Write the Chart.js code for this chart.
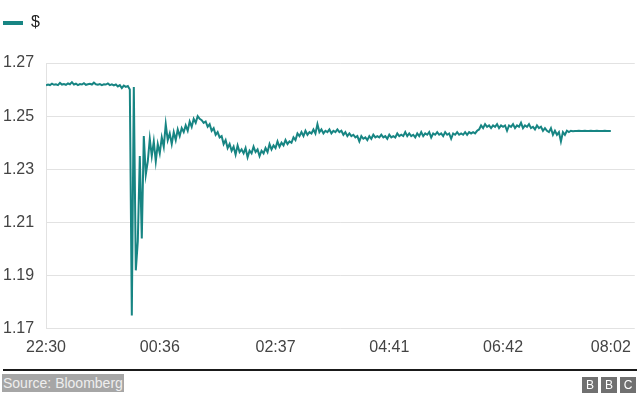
<!DOCTYPE html>
<html>
<head>
<meta charset="utf-8">
<script src="https://cdn.jsdelivr.net/npm/chart.js@4.4.1/dist/chart.umd.min.js"></script>
<style>
    body { margin: 0; background: #fff; font-family: "Liberation Sans", Arial, sans-serif; }
    #wrap { position: relative; width: 640px; height: 398px; overflow: hidden; }
    #chart { position: absolute; left: 0; top: 0; }
    #rule { position: absolute; left: 3px; top: 369px; width: 634px; height: 2px; background: #1a1a1a; }
    #source { position: absolute; left: 2px; top: 374px; height: 18px; line-height: 18px; padding: 0 1px; font-size: 14px; color: #eeeeee; background: #a6a6a6; }
    .bbc { position: absolute; top: 377px; width: 16px; height: 16px; background: #707070; color: #fff; font-size: 12px; line-height: 16px; text-align: center; }
</style>
</head>
<body>
<div id="wrap">
    <canvas id="chart" width="640" height="398"></canvas>
    <div id="rule"></div>
    <div id="source">Source: Bloomberg</div>
    <div class="bbc" style="left:582px">B</div>
    <div class="bbc" style="left:601px">B</div>
    <div class="bbc" style="left:620px">C</div>
</div>
<script>
// ======================================
// Data
// ======================================

const seriesName = "$";

const tickLabels = ["22:30", "00:36", "02:37", "04:41", "06:42", "08:02"];
const tickIndex = [0, 57, 115, 172, 229, 283];

const yTicks = [1.17, 1.19, 1.21, 1.23, 1.25, 1.27];

// pound in dollars
const dollarRate = [
    1.2616, 1.2619, 1.2617, 1.2622, 1.2618, 1.2620, 1.2617, 1.2625, 1.2619, 1.2621,
    1.2618, 1.2623, 1.2620, 1.2628, 1.2619, 1.2622, 1.2617, 1.2621, 1.2619, 1.2624,
    1.2618, 1.2620, 1.2622, 1.2619, 1.2626, 1.2620, 1.2618, 1.2621, 1.2617, 1.2620,
    1.2619, 1.2623, 1.2617, 1.2620, 1.2616, 1.2619, 1.2612, 1.2617, 1.2606, 1.2615,
    1.2610, 1.2613,
    // flash crash
    1.2600, 1.1750, 1.2610, 1.1920, 1.2030, 1.2350, 1.2040, 1.2425, 1.2280, 1.2330,
    1.2415, 1.2350, 1.2405, 1.2330, 1.2395, 1.2360, 1.2420, 1.2385, 1.2470, 1.2410,
    1.2435, 1.2395, 1.2440, 1.2410, 1.2450, 1.2425, 1.2455, 1.2440, 1.2465, 1.2445,
    1.2480, 1.2460, 1.2490, 1.2475, 1.2500, 1.2490, 1.2485, 1.2475, 1.2480, 1.2460,
    1.2470, 1.2445, 1.2455, 1.2430, 1.2440, 1.2420, 1.2425, 1.2395, 1.2410, 1.2380,
    1.2395, 1.2370, 1.2385, 1.2355, 1.2390, 1.2365, 1.2375, 1.2360, 1.2380, 1.2345,
    1.2370, 1.2360, 1.2385, 1.2365, 1.2375, 1.2350, 1.2370, 1.2360, 1.2380, 1.2365,
    1.2395, 1.2375, 1.2390, 1.2380, 1.2405, 1.2385, 1.2400, 1.2390, 1.2410, 1.2395,
    1.2405, 1.2400, 1.2420, 1.2410, 1.2435, 1.2425, 1.2440, 1.2425, 1.2445, 1.2430,
    1.2440, 1.2435, 1.2450, 1.2435, 1.2470, 1.2440, 1.2450, 1.2435, 1.2445, 1.2440,
    1.2450, 1.2435, 1.2445, 1.2440, 1.2450, 1.2440, 1.2445, 1.2430, 1.2440, 1.2425,
    1.2435, 1.2425, 1.2430, 1.2420, 1.2425, 1.2405, 1.2425, 1.2415, 1.2420, 1.2410,
    1.2425, 1.2415, 1.2430, 1.2420, 1.2425, 1.2420, 1.2430, 1.2420, 1.2425, 1.2415,
    1.2430, 1.2420, 1.2425, 1.2420, 1.2435, 1.2425, 1.2430, 1.2425, 1.2440, 1.2425,
    1.2435, 1.2425, 1.2430, 1.2420, 1.2435, 1.2425, 1.2440, 1.2425, 1.2435, 1.2430,
    1.2440, 1.2420, 1.2435, 1.2430, 1.2440, 1.2430, 1.2435, 1.2425, 1.2440, 1.2430,
    1.2435, 1.2415, 1.2435, 1.2430, 1.2440, 1.2430, 1.2435, 1.2430, 1.2440, 1.2430,
    1.2440, 1.2435, 1.2440, 1.2435, 1.2445, 1.2450, 1.2465, 1.2455, 1.2470, 1.2460,
    1.2465, 1.2455, 1.2465, 1.2460, 1.2470, 1.2455, 1.2465, 1.2460, 1.2465, 1.2445,
    1.2465, 1.2460, 1.2470, 1.2455, 1.2465, 1.2460, 1.2475, 1.2455, 1.2465, 1.2460,
    1.2470, 1.2455, 1.2460, 1.2450, 1.2465, 1.2455, 1.2460, 1.2445, 1.2455, 1.2445,
    1.2440, 1.2455, 1.2430, 1.2445, 1.2430, 1.2440, 1.2405, 1.2440, 1.2430, 1.2445,
    1.2440, 1.2445,
    // quiet close
    1.2443, 1.2444, 1.2444, 1.2445, 1.2444, 1.2444, 1.2445, 1.2444, 1.2444, 1.2445,
    1.2444, 1.2444, 1.2445, 1.2444, 1.2444, 1.2444, 1.2445, 1.2444, 1.2444, 1.2444
];

// ======================================
// Theme
// ======================================

const teal = "#178583";
const textColor = "#444444";
const gridColor = "#e2e2e2";

// ======================================
// Legend gap (space between legend and plot)
// ======================================

const legendGap = {
    id: "legendGap",
    beforeInit(chart) {
        const fit = chart.legend.fit;
        chart.legend.fit = function () {
            fit.bind(chart.legend)();
            this.height += 22;
        };
    }
};

// ======================================
// Chart
// ======================================

const points = dollarRate.map((v, i) => ({ x: i, y: v }));

new Chart(document.getElementById("chart"), {

    type: "line",

    data: {
        datasets: [{
            label: seriesName,
            data: points,
            borderColor: teal,
            backgroundColor: teal,
            borderWidth: 2,
            pointRadius: 0,
            tension: 0
        }]
    },

    plugins: [legendGap],

    options: {
        responsive: false,
        animation: false,
        layout: {
            padding: { left: 3, right: 4, top: 15, bottom: 32 }
        },
        plugins: {
            tooltip: { enabled: false },
            legend: {
                position: "top",
                align: "start",
                labels: {
                    boxWidth: 20,
                    boxHeight: 4,
                    padding: 0,
                    color: "#222",
                    font: { size: 16, family: "Liberation Sans" },
                    generateLabels: () => [{
                        text: seriesName,
                        fillStyle: teal,
                        strokeStyle: teal,
                        lineWidth: 0,
                        fontColor: "#222"
                    }]
                }
            }
        },
        scales: {
            x: {
                type: "linear",
                min: 0,
                max: 295,
                afterBuildTicks: (scale) => {
                    scale.ticks = tickIndex.map(v => ({ value: v }));
                },
                grid: { display: false, drawTicks: false },
                border: { display: false },
                ticks: {
                    autoSkip: false,
                    maxRotation: 0,
                    padding: 9,
                    color: textColor,
                    font: { size: 16, family: "Liberation Sans" },
                    callback: (v) => tickLabels[tickIndex.indexOf(v)]
                }
            },
            y: {
                min: yTicks[0],
                max: yTicks[yTicks.length - 1],
                afterBuildTicks: (scale) => {
                    scale.ticks = yTicks.map(v => ({ value: v }));
                },
                afterFit: (scale) => {
                    scale.width = 43;
                },
                grid: { color: gridColor, drawTicks: false },
                border: { display: true, color: gridColor },
                ticks: {
                    crossAlign: "far",
                    color: textColor,
                    font: { size: 16, family: "Liberation Sans" },
                    callback: (v) => v.toFixed(2)
                }
            }
        }
    }

});
</script>
</body>
</html>
